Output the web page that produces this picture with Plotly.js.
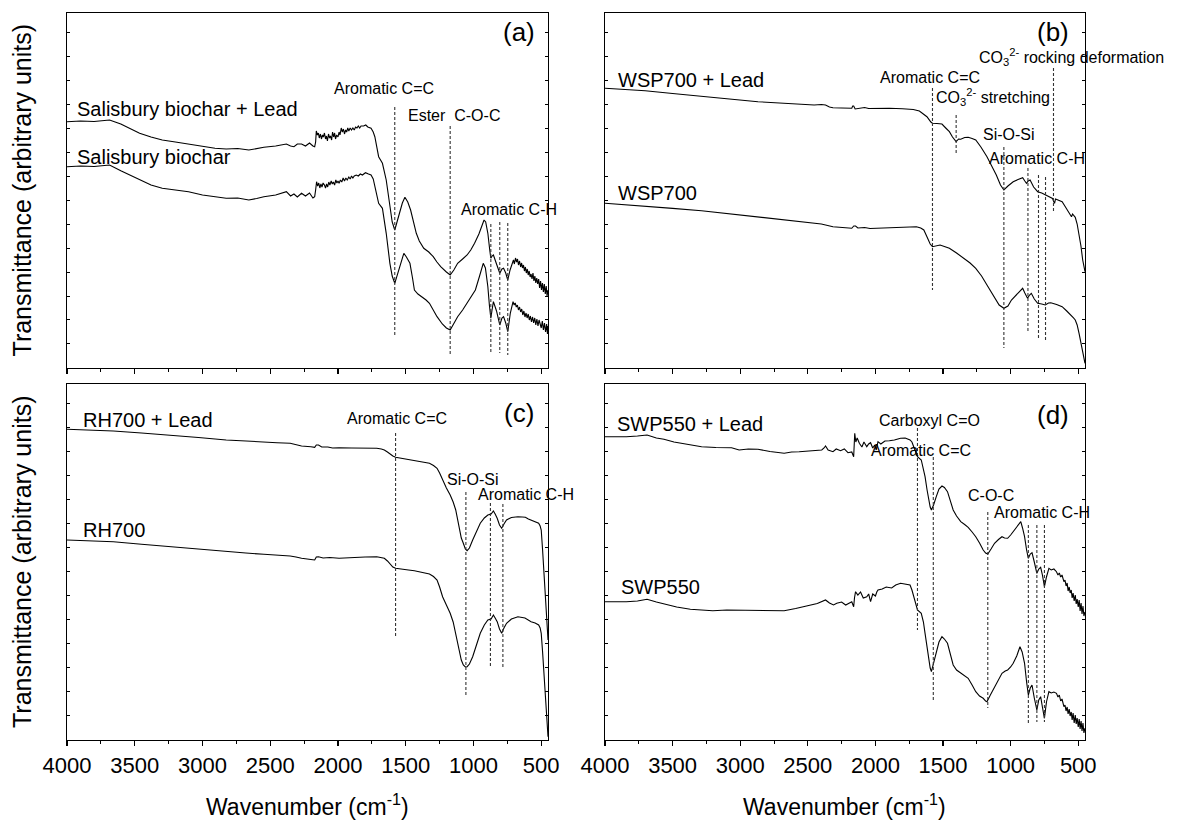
<!DOCTYPE html>
<html><head><meta charset="utf-8">
<script src="https://cdn.plot.ly/plotly-3.0.1.min.js"></script>
<style>body{margin:0;background:#fff}#chart{width:1178px;height:820px}</style>
</head><body><div id="chart"></div>
<script>
// ---- data: [wavenumber, transmittance (arbitrary units)] ----
const aLead = [[4000,246.3],[3900,247],[3800,246.5],[3686,248],[3603,244],[3464,234.7],[3380,231],[3297,228],[3200,226],[3103,224],[3000,222],[2908,219.7],[2825,219],[2740,219.5],[2658,218],[2600,219.5],[2547,220.7],[2460,222],[2381,224],[2350,222],[2325,221.3],[2300,224],[2269,224],[2240,222],[2210,225],[2185,222],[2172,221.3],[2165,226],[2160,237],[2152,233],[2145,235],[2138,230],[2130,234],[2122,229],[2115,233],[2108,231],[2100,235],[2092,229],[2085,232],[2078,227],[2070,234],[2062,230],[2055,232],[2047,228],[2040,236],[2032,231],[2025,235],[2018,229],[2010,233],[2000,231],[1992,236],[1985,233],[1976,240],[1968,236],[1960,239],[1952,234],[1944,238],[1936,236],[1928,240],[1920,237],[1910,240],[1900,238],[1890,240],[1880,238],[1870,241],[1860,240],[1850,242],[1840,240],[1830,242],[1811,242],[1795,243],[1780,241],[1756,239.7],[1740,236],[1728,231.3],[1700,211.3],[1672,204.7],[1644,188],[1617,161.3],[1600,146],[1581,138],[1565,145],[1547,154.7],[1525,165],[1506,170.7],[1485,166],[1464,158],[1440,145],[1422,134.7],[1400,127],[1367,119.7],[1330,116],[1297,111.3],[1270,106],[1242,101.3],[1200,96],[1172,93],[1145,98],[1117,104.7],[1080,109],[1047,113],[1020,118],[992,124.7],[960,134],[935,143],[922,148],[910,146],[894,134.7],[880,118],[872,109.7],[863,112],[853,113],[830,104],[806,94.7],[790,99],[778,99.7],[762,95],[747,88],[730,98],[714,104.7],[705,108],[698,104],[690,110],[682,106],[675,109],[668,103],[660,107],[652,101],[645,105],[638,100],[631,103],[624,97],[617,101],[610,95],[603,99],[596,93],[589,97],[582,91],[575,94],[568,89],[561,95],[554,87],[547,92],[540,85],[533,90],[526,84],[519,89],[512,80],[505,87],[498,78],[491,85],[484,76],[477,84],[470,74],[463,82],[457,72],[450,78]];
const aBio = [[4000,201.3],[3900,202],[3800,201.5],[3686,203],[3603,197.3],[3464,188],[3380,183],[3297,179.7],[3200,178],[3103,176.3],[3000,173],[2908,171.3],[2825,169.7],[2740,170],[2658,168],[2600,169.5],[2547,171.3],[2460,173],[2381,176.3],[2350,172],[2325,174],[2300,171],[2269,174.7],[2240,172],[2210,175],[2185,170],[2172,171.3],[2165,178],[2158,186.3],[2150,182],[2142,185],[2134,180],[2126,184],[2118,181],[2110,185],[2100,183],[2092,180],[2084,184],[2076,181],[2068,186],[2060,183],[2050,187],[2042,184],[2034,186],[2025,183],[2016,188],[2008,185],[2000,187],[1992,184.7],[1982,188],[1972,186],[1962,190],[1952,187],[1942,190],[1932,188],[1920,191],[1910,189],[1900,192],[1890,190],[1880,192],[1865,193],[1850,192],[1835,194],[1820,193],[1797,195.3],[1775,194],[1756,193],[1740,189],[1728,181.3],[1700,164.7],[1672,159.7],[1644,134.7],[1617,104.7],[1600,92],[1581,84.7],[1565,92],[1547,101.3],[1530,110],[1514,114.7],[1495,111],[1469,104.7],[1450,90],[1436,78],[1410,74],[1381,71.3],[1350,68],[1325,64.7],[1300,59],[1269,51.3],[1230,44],[1200,40],[1172,38],[1145,44],[1117,51.3],[1080,58],[1047,64.7],[1015,71],[986,78],[955,92],[928,104.7],[912,100],[894,81.3],[882,62],[872,49.7],[863,58],[853,66.3],[830,57],[806,43],[790,50],[778,51.3],[762,45],[747,36.3],[728,55],[708,66.3],[700,63],[692,65],[684,61],[676,63],[668,58],[660,61],[652,56],[644,59],[636,53],[628,57],[620,51],[612,55],[604,50],[596,54],[588,48],[580,52],[572,46],[564,51],[556,45],[548,50],[540,43],[532,49],[524,42],[516,48],[508,44],[500,40],[492,47],[484,38],[476,45],[468,36],[460,44],[454,34],[450,42]];
const bLead = [[4000,279.7],[3850,278.5],[3703,277.3],[3500,274.5],[3286,272],[3080,269],[2869,266.3],[2650,264.5],[2453,263],[2400,263.5],[2369,263],[2340,261],[2314,260.3],[2250,260],[2175,259.7],[2168,262],[2161,262],[2150,259],[2119,259.7],[2080,260.5],[2050,259.5],[2008,259.7],[1950,259.3],[1897,259.7],[1800,259.3],[1720,258.5],[1675,257],[1640,253],[1619,251.3],[1590,246],[1578,244.7],[1545,244.5],[1508,244],[1480,240],[1453,236.3],[1430,231],[1403,226.3],[1385,229],[1369,228.7],[1340,230.5],[1314,230.7],[1285,229.5],[1258,228],[1220,221],[1175,211.3],[1140,202],[1106,193],[1075,183],[1050,178],[1020,182],[981,186.3],[945,188.5],[911,190.3],[895,187],[883,184.7],[870,187],[856,188],[830,181],[800,176.3],[770,175],[744,173],[715,171],[690,169.5],[680,166],[675,164.7],[668,169],[640,167],[619,166.3],[590,160],[565,154],[550,151.3],[542,154],[530,152],[522,150.7],[508,144],[494,134.7],[480,122],[467,108],[458,101],[450,96.3]];
const bWsp = [[4000,164.7],[3850,163.3],[3703,162],[3500,159.6],[3286,157.3],[3080,154.3],[2869,151.3],[2650,148.3],[2453,145.3],[2400,144],[2314,141.3],[2250,140.5],[2175,139.7],[2160,142],[2147,142],[2130,140],[2080,140.5],[2040,139.5],[2008,139.7],[1950,140.2],[1897,140.7],[1800,141],[1697,141.3],[1665,140],[1642,138],[1619,131.3],[1595,124],[1578,121.3],[1550,122.5],[1522,123],[1490,121.5],[1453,119.7],[1400,115],[1342,109.7],[1300,105],[1258,99.7],[1215,92],[1175,83],[1145,76],[1119,69.7],[1085,63],[1050,59.7],[1020,62],[994,68],[950,74],[911,79.7],[895,75],[875,69.7],[860,73],[847,74.7],[825,69],[800,64.7],[770,64],[744,63],[720,65],[703,65.3],[660,63.5],[619,61.3],[585,57],[550,51.3],[535,50],[522,48],[508,43],[494,34.7],[480,25],[467,14.7],[458,9],[450,4.7]];
const cLead = [[4000,310.7],[3658,309],[3450,307],[3242,305],[3030,302.5],[2825,300],[2680,298.7],[2547,297.7],[2450,297.3],[2353,296.7],[2310,295],[2269,294],[2200,293.2],[2172,292.7],[2160,295],[2144,295],[2120,293],[2075,293],[2040,292],[1992,292.3],[1900,292],[1800,292],[1714,291.7],[1680,291],[1658,290],[1635,288],[1617,286],[1595,284],[1575,282.7],[1545,282],[1519,281.7],[1480,281],[1436,280],[1380,278.5],[1325,276.7],[1295,274.5],[1269,271.7],[1250,267],[1228,260],[1200,252],[1172,245],[1150,238],[1131,230],[1115,220],[1103,210],[1090,202],[1075,196.7],[1060,191],[1047,189.3],[1030,192],[1006,200],[980,208],[950,216.7],[920,222],[894,225],[870,226],[853,229],[840,226],[825,221.7],[808,215],[792,211.7],[775,216],[756,220],[720,222.5],[672,223.3],[640,223],[617,222.7],[595,221],[575,220],[545,218.5],[519,216.7],[508,214],[500,210],[490,190],[478,163.3],[465,135],[450,100]];
const cRh = [[4000,200],[3658,198.3],[3450,195.8],[3242,193.3],[3030,190.8],[2825,188.3],[2680,187],[2547,185.7],[2450,185],[2353,184],[2310,183],[2269,181.7],[2200,180.5],[2172,180],[2160,183],[2144,183.3],[2110,182],[2060,182.5],[1992,181.7],[1900,182.5],[1800,183],[1714,183.3],[1680,182.5],[1658,181.7],[1635,179],[1617,176.7],[1595,173],[1575,171.7],[1545,171],[1519,170.7],[1480,170],[1436,169.3],[1380,168],[1325,166],[1295,163.5],[1269,160],[1250,153],[1228,143.3],[1200,135],[1172,126.7],[1150,118],[1131,106.7],[1115,95],[1103,86.7],[1090,80],[1075,75],[1060,73],[1047,73.3],[1030,76],[1006,83.3],[980,95],[950,106.7],[920,115],[894,120],[870,121],[853,125],[840,122],[825,118.3],[808,111],[792,106.7],[775,112],[756,116.7],[720,121],[672,123.3],[620,122],[575,118.3],[545,117],[519,115],[508,112],[500,106.7],[490,88],[478,65],[465,38],[450,3.3]];
const dLead = [[4000,303.3],[3920,303],[3842,303.3],[3760,304],[3689,305],[3620,302],[3564,300.7],[3490,298],[3425,296.7],[3350,294.5],[3286,293.3],[3180,292.5],[3064,292.3],[3008,290],[2940,291],[2869,290.7],[2780,288.5],[2675,286.7],[2620,288],[2564,288.3],[2480,289],[2397,290],[2380,292],[2369,294],[2350,290],[2314,288.3],[2290,291],[2258,289.3],[2230,291],[2203,287.3],[2175,288],[2161,283.3],[2157,295],[2153,306.7],[2145,298],[2135,302],[2119,296.7],[2100,293],[2085,298],[2064,293.3],[2050,296],[2036,297.3],[2020,292],[2005,295],[1994,290],[1985,297],[1981,298.3],[1960,296],[1930,299],[1897,299.3],[1860,300],[1814,301.7],[1780,302],[1744,300],[1730,298],[1717,293.3],[1700,287],[1689,283.3],[1661,280],[1645,272],[1633,263.3],[1618,250],[1606,240],[1595,233],[1586,230],[1570,235],[1550,243.3],[1530,251],[1508,254],[1490,252.5],[1467,248.3],[1445,239],[1425,230],[1400,224],[1369,218.3],[1340,215.5],[1314,212.7],[1285,208],[1258,203.3],[1230,197],[1203,190],[1185,187],[1169,186],[1145,191],[1119,196.7],[1090,200.5],[1064,203.3],[1045,202],[1022,201.7],[1000,205],[981,208.3],[955,213],[925,218.3],[912,212],[897,203.3],[882,190],[869,181.7],[855,186],[842,187.3],[825,178],[806,166.7],[792,171],[778,172.7],[765,165],[750,153.3],[735,163],[717,171.7],[700,170],[680,171],[661,168.3],[650,165],[640,167],[630,163],[620,165],[606,158.3],[598,160],[590,154],[582,157],[575,149],[567,153],[560,147],[552,150],[545,142],[538,147],[530,139],[522,145],[515,136],[508,141],[500,133],[493,140],[486,129],[479,137],[472,126],[465,134],[458,124],[450,128]];
const dSwp = [[4000,138.3],[3920,138],[3842,138.3],[3760,139],[3689,140.7],[3620,138],[3564,136],[3470,133],[3369,130.7],[3280,129.8],[3203,129.3],[3100,130],[3008,130],[2940,129.6],[2869,129.3],[2780,129.5],[2675,129.3],[2590,131.5],[2508,134],[2430,136.5],[2369,140],[2340,137],[2310,135],[2286,136.7],[2250,138],[2220,135],[2175,138.3],[2161,133.3],[2155,142],[2147,148.3],[2130,145],[2110,148],[2090,142],[2064,143.3],[2050,146],[2036,138.3],[2020,146],[2000,144],[1990,148],[1981,150],[1950,151],[1920,153],[1880,152],[1850,155],[1814,156.7],[1780,156],[1744,155],[1730,150],[1717,143.3],[1700,136],[1689,130],[1661,126.7],[1645,118],[1633,106.7],[1618,92],[1606,80],[1595,72],[1586,68.3],[1570,76],[1550,86.7],[1530,98],[1508,103.3],[1490,101],[1467,96.7],[1445,85],[1425,75],[1400,70],[1369,66.7],[1340,64],[1314,61.7],[1285,55],[1258,48.3],[1230,44],[1203,41.7],[1185,39],[1175,38.3],[1150,45],[1119,53.3],[1090,61],[1064,66.7],[1040,69],[1022,70],[1000,73],[981,76.7],[955,84],[931,93.3],[915,88],[897,76.7],[882,58],[869,45],[855,52],[842,55],[825,42],[806,30],[792,40],[778,43.3],[765,33],[750,21.7],[735,38],[717,48.3],[700,47],[680,48],[661,46.7],[650,43],[640,45],[630,39],[620,41],[606,33.3],[598,35],[590,29],[582,33],[575,26],[567,31],[560,24],[552,28],[545,20],[538,27],[530,17],[522,25],[515,16],[508,22],[500,13],[493,21],[486,11],[479,19],[472,9],[465,17],[458,7],[450,12]];

// band marker lines: [wavenumber, top, bottom]
const aMarks = [[1581,261,33],[1172,242,13],[872,144,16],[806,146,15],[747,145,13]];
const bMarks = [[1578,280,78],[1403,253,213],[1050,221,20],[872,200,35],[794,193,30],[742,191,26],[683,300,156]];
const cMarks = [[1575,307,103],[1056,248,45],[875,237,72],[783,236,72]];
const dMarks = [[1689,312,110],[1572,283,38],[1169,228,32],[869,215,17],[806,215,18],[750,215,18]];

// labels: [text, wavenumber, value, kind]
const aLabels = [["(a)",664,336,"big"],["Aromatic C=C",1658,280,"c"],["Ester  C-O-C",1147,253,"c"],["Aromatic C-H",736,159,"c"],["Salisbury biochar + Lead",3944,259,"s"],["Salisbury biochar",3944,211,"s"]];
const bLabels = [["(b)",689,336,"big"],["CO<sub>3</sub><sup>2-</sup> rocking deformation",1250,311,"l"],["Aromatic C=C",1597,291,"c"],["CO<sub>3</sub><sup>2-</sup> stretching",1569,271,"l"],["Si-O-Si",1011,234,"c"],["Aromatic C-H",808,210,"c"],["WSP700 + Lead",3917,288,"s"],["WSP700",3917,175,"s"]];
const cLabels = [["(c)",664,327,"big"],["RH700 + Lead",3900,320,"s"],["RH700",3900,210,"s"],["Aromatic C=C",1567,321,"c"],["Si-O-Si",1006,260,"c"],["Aromatic C-H",614,245,"c"]];
const dLabels = [["(d)",689,325,"big"],["SWP550 + Lead",3925,316,"s"],["SWP550",3897,153,"s"],["Carboxyl C=O",1597,319,"c"],["Aromatic C=C",1661,289,"c"],["C-O-C",1144,244,"c"],["Aromatic C-H",771,227,"c"]];

const xTickVals = [4000,3500,3000,2500,2000,1500,1000,500];
const xTitle = "Wavenumber (cm<sup>-1</sup>)";
const yTitle = "Transmittance (arbitrary units)";

// ---- build ----
const FONT = "Liberation Sans, Arial, Helvetica, sans-serif";
const traces = [];
const annotations = [];
function addPanel(series, marks, labels, n){
  const xa = n===1 ? 'x' : 'x'+n, ya = n===1 ? 'y' : 'y'+n;
  series.forEach(s => traces.push({type:'scatter', mode:'lines', x:s.map(p=>p[0]), y:s.map(p=>p[1]), xaxis:xa, yaxis:ya, line:{color:'#000', width:1.1}, hoverinfo:'skip'}));
  marks.forEach(m => traces.push({type:'scatter', mode:'lines', x:[m[0],m[0]], y:[m[1],m[2]], xaxis:xa, yaxis:ya, line:{color:'#333', width:1.1, dash:'3px,2px'}, hoverinfo:'skip'}));
  labels.forEach(l => {
    const a = {text:l[0], x:l[1], y:l[2], xref:xa, yref:ya, showarrow:false, yanchor:'middle', font:{family:FONT, color:'#000', size:16}};
    if(l[3]==='big'){a.font.size=26; a.xanchor='center';}
    else if(l[3]==='s'){a.font.size=20; a.xanchor='left';}
    else if(l[3]==='l'){a.xanchor='left';}
    else a.xanchor='center';
    annotations.push(a);
  });
}
addPanel([aLead,aBio], aMarks, aLabels, 1);
addPanel([bLead,bWsp], bMarks, bLabels, 2);
addPanel([cLead,cRh], cMarks, cLabels, 3);
addPanel([dLead,dSwp], dMarks, dLabels, 4);

const colL=[0,0.4725], colR=[0.5285,1], rowT=[0.5117,1], rowB=[0,0.4897];
function xax(dom, anchor, labels){
  return {domain:dom, anchor:anchor, range:[4000,450], autorange:false, showline:true, linecolor:'#000', linewidth:1.3, mirror:true,
    ticks:'outside', ticklen:5, tickwidth:1.2, tickcolor:'#000', tickmode:'array', tickvals:xTickVals, ticktext:xTickVals.map(String),
    minor:{ticks:'outside', ticklen:3, tickwidth:1, tickcolor:'#000', dtick:250, tick0:0},
    showticklabels:labels, tickfont:{family:FONT, size:22, color:'#000'}, showgrid:false, zeroline:false, fixedrange:true};
}
function xtop(over, anchor){
  return {overlaying:over, side:'top', anchor:anchor, range:[4000,450], autorange:false, showline:false, ticks:'inside', ticklen:4, tickwidth:1, tickcolor:'#000',
    tickmode:'array', tickvals:xTickVals, minor:{ticks:'inside', ticklen:2, tickcolor:'#000', dtick:250, tick0:0}, showticklabels:false, showgrid:false, zeroline:false};
}
function yax(dom, anchor, top){
  return {domain:dom, anchor:anchor, range:[0,top], autorange:false, showline:true, linecolor:'#000', linewidth:1.3, mirror:'ticks',
    ticks:'inside', ticklen:3, tickwidth:1, tickcolor:'#000', dtick:24, tick0:0, showticklabels:false, showgrid:false, zeroline:false, fixedrange:true};
}
// axis titles
[0.7559, 0.2448].forEach(cy => annotations.push({text:yTitle, xref:'paper', yref:'paper', x:-0.0442, y:cy, textangle:-90, showarrow:false, xanchor:'center', yanchor:'middle', font:{family:FONT, size:25, color:'#000'}}));
[0.2363, 0.7642].forEach(cx => annotations.push({text:xTitle, xref:'paper', yref:'paper', x:cx, y:-0.0894, showarrow:false, xanchor:'center', yanchor:'middle', font:{family:FONT, size:23, color:'#000'}}));

const layout = {
  width:1178, height:820, margin:{l:67, r:93, t:13, b:80}, paper_bgcolor:'#fff', plot_bgcolor:'#fff', showlegend:false,
  xaxis:xax(colL,'y',false), yaxis:yax(rowT,'x',355),
  xaxis2:xax(colR,'y2',false), yaxis2:yax(rowT,'x2',355),
  xaxis3:xax(colL,'y3',true), yaxis3:yax(rowB,'x3',356),
  xaxis4:xax(colR,'y4',true), yaxis4:yax(rowB,'x4',356),
  xaxis5:xtop('x','y'), xaxis6:xtop('x2','y2'), xaxis7:xtop('x3','y3'), xaxis8:xtop('x4','y4'),
  annotations:annotations, hovermode:false
};
Plotly.newPlot('chart', traces, layout, {displayModeBar:false, staticPlot:true});
</script>
</body></html>
